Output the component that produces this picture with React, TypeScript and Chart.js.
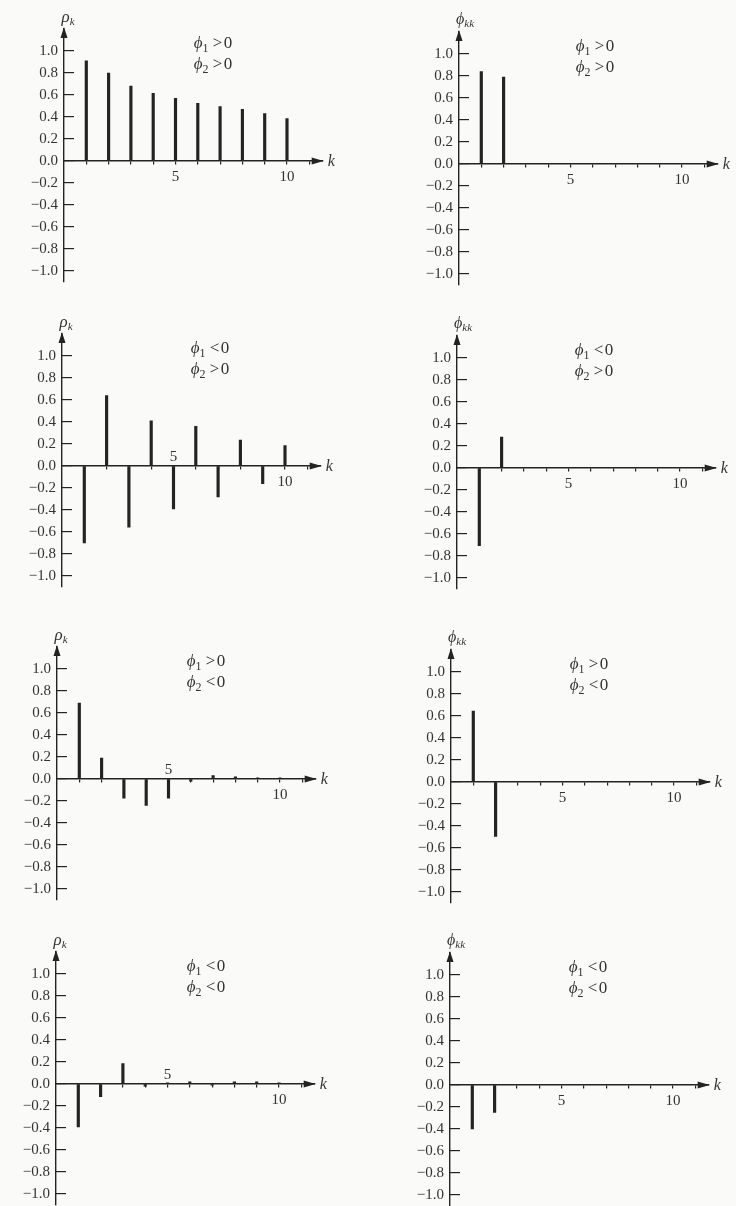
import React, { useEffect, useRef } from "react";
import { Chart, registerables } from "chart.js";

Chart.register(...registerables);

// ---------- data ----------
const lags = [1, 2, 3, 4, 5, 6, 7, 8, 9, 10];
const pacfLags = [1, 2];
const yTicks = [-1.0, -0.8, -0.6, -0.4, -0.2, 0.0, 0.2, 0.4, 0.6, 0.8, 1.0];
const xTickMarks = [1, 2, 3, 4, 5, 6, 7, 8, 9, 10, 11];

// phi1 > 0, phi2 > 0
const rhoPosPos = [0.91, 0.8, 0.68, 0.615, 0.57, 0.525, 0.495, 0.47, 0.43, 0.385];
const pacfPosPos = [0.84, 0.79];
// phi1 < 0, phi2 > 0
const rhoNegPos = [-0.7, 0.64, -0.555, 0.41, -0.39, 0.36, -0.28, 0.235, -0.16, 0.185];
const pacfNegPos = [-0.705, 0.28];
// phi1 > 0, phi2 < 0
const rhoPosNeg = [0.69, 0.19, -0.175, -0.24, -0.175, -0.02, 0.03, 0.02, 0.01, 0.01];
const pacfPosNeg = [0.645, -0.495];
// phi1 < 0, phi2 < 0
const rhoNegNeg = [-0.39, -0.115, 0.185, -0.02, 0.01, 0.02, -0.01, 0.02, 0.02, 0.01];
const pacfNegNeg = [-0.4, -0.25];

// ---------- style / layout ----------
const SERIF = '"Liberation Serif", "DejaVu Serif", "Times New Roman", serif';
const INK = "#232323";
const TEXT = "#333333";
const BG = "#fafaf8";
const UNIT = 110; // px per 1.0 on y
const STEP = 22.3; // px per lag
const X_MAX = 11.6;
const Y_MIN = -1.1;
const Y_MAX = 1.2;
const LEFT_W = 50;
const PAD_TOP = 32;
const PAD_BOTTOM = 28;
const CANVAS_W = 340;
const PAD_RIGHT = CANVAS_W - LEFT_W - X_MAX * STEP;
const CANVAS_H = Math.round(PAD_TOP + (Y_MAX - Y_MIN) * UNIT + PAD_BOTTOM);
const PHI = "\u03d5";

type PanelCfg = {
  kind: "rho" | "pacf";
  s1: string;
  s2: string;
  lags: number[];
  values: number[];
  axisX: number;
  zeroY: number;
  below: number[];
  above: number[];
  textDx: number;
};

const panels: PanelCfg[] = [
  { kind: "rho", s1: ">", s2: ">", lags, values: rhoPosPos, axisX: 64, zeroY: 161, below: [5, 10], above: [], textDx: 149 },
  { kind: "pacf", s1: ">", s2: ">", lags: pacfLags, values: pacfPosPos, axisX: 459, zeroY: 164, below: [5, 10], above: [], textDx: 136 },
  { kind: "rho", s1: "<", s2: ">", lags, values: rhoNegPos, axisX: 62, zeroY: 466, below: [10], above: [5], textDx: 148 },
  { kind: "pacf", s1: "<", s2: ">", lags: pacfLags, values: pacfNegPos, axisX: 456.5, zeroY: 468, below: [5, 10], above: [], textDx: 137 },
  { kind: "rho", s1: ">", s2: "<", lags, values: rhoPosNeg, axisX: 57, zeroY: 779, below: [10], above: [5], textDx: 149 },
  { kind: "pacf", s1: ">", s2: "<", lags: pacfLags, values: pacfPosNeg, axisX: 451, zeroY: 782, below: [5, 10], above: [], textDx: 138 },
  { kind: "rho", s1: "<", s2: "<", lags, values: rhoNegNeg, axisX: 55.5, zeroY: 1084, below: [10], above: [5], textDx: 150 },
  { kind: "pacf", s1: "<", s2: "<", lags: pacfLags, values: pacfNegNeg, axisX: 450, zeroY: 1085, below: [5, 10], above: [], textDx: 138 },
];

type Run = { t: string; font: string; dy: number };

function drawRuns(ctx: CanvasRenderingContext2D, cx: number, baseline: number, runs: Run[]) {
  let total = 0;
  const widths = runs.map((r) => {
    ctx.font = r.font;
    const w = ctx.measureText(r.t).width;
    total += w;
    return w;
  });
  let x = cx - total / 2;
  ctx.textAlign = "left";
  ctx.textBaseline = "alphabetic";
  runs.forEach((r, i) => {
    ctx.font = r.font;
    ctx.fillText(r.t, x, baseline + r.dy);
    x += widths[i];
  });
}

const phiRuns = (idx: string, sign: string): Run[] => [
  { t: PHI, font: `italic 17px ${SERIF}`, dy: 0 },
  { t: idx, font: `12px ${SERIF}`, dy: 4 },
  { t: ` ${sign}\u200a0`, font: `17px ${SERIF}`, dy: 0 },
];

const overlayPlugin = {
  id: "overlay",
  afterDraw(chart: any, _args: any, opts: any) {
    const { ctx, chartArea: a, scales } = chart;
    const z = scales.y.getPixelForValue(0);
    const one = scales.y.getPixelForValue(1);
    ctx.save();
    ctx.fillStyle = INK;
    // y arrow head
    ctx.beginPath();
    ctx.moveTo(a.left, a.top - 2);
    ctx.lineTo(a.left - 3.5, a.top + 9);
    ctx.lineTo(a.left + 3.5, a.top + 9);
    ctx.closePath();
    ctx.fill();
    // x arrow head
    ctx.beginPath();
    ctx.moveTo(a.right + 1, z);
    ctx.lineTo(a.right - 11, z - 3.5);
    ctx.lineTo(a.right - 11, z + 3.5);
    ctx.closePath();
    ctx.fill();
    // k label
    ctx.fillStyle = TEXT;
    ctx.font = `italic 16px ${SERIF}`;
    ctx.textAlign = "left";
    ctx.textBaseline = "alphabetic";
    ctx.fillText("k", a.right + 5, z + 5);
    // y label
    if (opts.kind === "rho") {
      drawRuns(ctx, a.left + 4, a.top - 7, [
        { t: "\u03c1", font: `italic 17px ${SERIF}`, dy: 0 },
        { t: "k", font: `italic 11px ${SERIF}`, dy: 3 },
      ]);
    } else {
      drawRuns(ctx, a.left + 6, a.top - 8, [
        { t: PHI, font: `italic 16px ${SERIF}`, dy: 0 },
        { t: "kk", font: `italic 11px ${SERIF}`, dy: 3 },
      ]);
    }
    // annotations
    drawRuns(ctx, a.left + opts.textDx, one - 3, phiRuns("1", opts.s1));
    drawRuns(ctx, a.left + opts.textDx, one + 18, phiRuns("2", opts.s2));
    ctx.restore();
  },
};

const fmtY = (v: number) => Number(v).toFixed(1).replace("-", "\u2212");

function Panel({ cfg }: { cfg: PanelCfg }) {
  const ref = useRef<HTMLCanvasElement>(null);
  useEffect(() => {
    const canvas = ref.current;
    if (!canvas) return;
    const tickFont = { family: SERIF, size: 15 };
    const scales: any = {
      x: {
        type: "linear",
        min: 0,
        max: X_MAX,
        offset: false,
        position: { y: 0 },
        afterBuildTicks: (s: any) => {
          s.ticks = xTickMarks.map((v) => ({ value: v }));
        },
        grid: { offset: false, drawOnChartArea: false, drawTicks: true, tickLength: 3, color: INK, lineWidth: 1.2 },
        border: { display: true, color: INK, width: 1.4 },
        ticks: {
          autoSkip: false,
          maxRotation: 0,
          padding: 4,
          color: TEXT,
          font: tickFont,
          callback: (v: any) => (cfg.below.includes(Number(v)) ? String(v) : ""),
        },
      },
      y: {
        type: "linear",
        min: Y_MIN,
        max: Y_MAX,
        position: "left",
        afterFit: (s: any) => {
          s.width = LEFT_W;
        },
        afterBuildTicks: (s: any) => {
          s.ticks = yTicks.map((v) => ({ value: v }));
        },
        grid: { drawOnChartArea: false, drawTicks: true, tickLength: -10, color: INK, lineWidth: 1.2 },
        border: { display: true, color: INK, width: 1.4 },
        ticks: { padding: 16, color: TEXT, font: tickFont, callback: (v: any) => fmtY(v) },
      },
    };
    if (cfg.above.length) {
      scales.x2 = {
        type: "linear",
        min: 0,
        max: X_MAX,
        offset: false,
        position: { y: 0 },
        afterBuildTicks: (s: any) => {
          s.ticks = cfg.above.map((v) => ({ value: v }));
        },
        grid: { display: false, drawTicks: false, offset: false },
        border: { display: false },
        ticks: {
          autoSkip: false,
          maxRotation: 0,
          padding: -18,
          color: TEXT,
          font: tickFont,
          callback: (v: any) => String(v),
        },
      };
    }
    const chart = new Chart(canvas, {
      type: "bar",
      data: {
        datasets: [
          {
            data: cfg.lags.map((k, i) => ({ x: k, y: cfg.values[i] })),
            backgroundColor: INK,
            borderWidth: 0,
            barThickness: 2.5,
            xAxisID: "x",
            yAxisID: "y",
          } as any,
        ],
      },
      options: {
        animation: false,
        responsive: false,
        layout: { padding: { left: 0, top: PAD_TOP, right: PAD_RIGHT, bottom: PAD_BOTTOM } },
        plugins: {
          legend: { display: false },
          tooltip: { enabled: false },
          overlay: { kind: cfg.kind, s1: cfg.s1, s2: cfg.s2, textDx: cfg.textDx },
        } as any,
        scales,
      },
      plugins: [overlayPlugin as any],
    });
    return () => chart.destroy();
  }, [cfg]);

  const left = cfg.axisX - LEFT_W;
  const top = cfg.zeroY - Y_MAX * UNIT - PAD_TOP;
  return (
    <canvas
      ref={ref}
      width={CANVAS_W}
      height={CANVAS_H}
      style={{ position: "absolute", left, top, width: CANVAS_W, height: CANVAS_H }}
    />
  );
}

export default function App() {
  return (
    <div
      style={{
        position: "absolute",
        left: 0,
        top: 0,
        width: 736,
        height: 1206,
        overflow: "hidden",
        background: BG,
      }}
    >
      {panels.map((p, i) => (
        <Panel key={i} cfg={p} />
      ))}
    </div>
  );
}
